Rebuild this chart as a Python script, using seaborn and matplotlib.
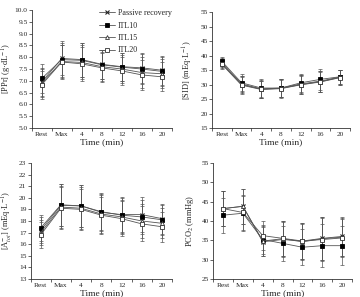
import numpy as np
import pandas as pd
import seaborn as sns
import matplotlib
matplotlib.use("Agg")
import matplotlib.pyplot as plt

# tiempos (eje x categorico)
times = ["Rest", "Max", "4", "8", "12", "16", "20"]
groups = ["Passive recovery", "ITL10", "ITL15", "ITL20"]

# [PPr] (g/dL)
ppr_passive = [6.95, 7.95, 7.90, 7.70, 7.60, 7.55, 7.45]
ppr_itl10 = [7.10, 7.90, 7.87, 7.68, 7.58, 7.50, 7.40]
ppr_itl15 = [6.90, 7.82, 7.78, 7.60, 7.50, 7.35, 7.30]
ppr_itl20 = [6.83, 7.80, 7.72, 7.55, 7.42, 7.25, 7.17]
ppr_sd = [0.60, 0.72, 0.72, 0.62, 0.60, 0.65, 0.62]

# [SID] (mEq/L)
sid_passive = [37.5, 30.2, 28.5, 28.8, 30.2, 31.2, 32.6]
sid_itl10 = [38.0, 30.6, 28.8, 28.8, 30.6, 31.8, 32.7]
sid_itl15 = [37.2, 30.0, 28.4, 28.7, 30.0, 31.0, 32.5]
sid_itl20 = [37.0, 29.8, 28.3, 28.6, 29.9, 30.9, 32.4]
sid_sd = [1.6, 2.9, 3.0, 3.1, 3.2, 3.6, 2.5]

# [Atot] (mEq/L)
atot_passive = [17.2, 19.35, 19.30, 18.75, 18.55, 18.55, 18.20]
atot_itl10 = [17.4, 19.40, 19.30, 18.80, 18.50, 18.35, 18.10]
atot_itl15 = [17.0, 19.20, 19.10, 18.60, 18.35, 18.00, 17.80]
atot_itl20 = [16.8, 19.10, 19.00, 18.50, 18.20, 17.75, 17.50]
atot_sd = [1.1, 1.8, 1.8, 1.6, 1.5, 1.5, 1.3]

# PCO2 (mmHg)
pco2_passive = [43.2, 43.8, 34.6, 35.2, 34.8, 35.5, 36.0]
pco2_itl10 = [41.5, 42.0, 35.2, 34.2, 33.2, 33.6, 33.6]
pco2_itl15 = [43.2, 43.8, 34.8, 35.4, 34.6, 35.4, 35.8]
pco2_itl20 = [43.2, 42.2, 36.2, 35.5, 34.8, 35.2, 35.6]
pco2_sd = [4.5, 4.5, 3.8, 4.5, 4.6, 5.5, 5.0]

sns.set_style("ticks")
plt.rcParams['font.family'] = ['Liberation Serif', 'DejaVu Serif']
plt.rcParams['mathtext.fontset'] = 'stix'
plt.rcParams['font.size'] = 6

markers = {"Passive recovery": dict(marker="x", mfc="#222222", mec="#222222", ms=2.6, mew=0.8),
           "ITL10": dict(marker="s", mfc="black", mec="black", ms=3.0, mew=0.6),
           "ITL15": dict(marker="^", mfc="white", mec="#333333", ms=2.8, mew=0.6),
           "ITL20": dict(marker="s", mfc="white", mec="#333333", ms=2.8, mew=0.6)}

W, H = 360, 297
panels = [
    ([ppr_passive, ppr_itl10, ppr_itl15, ppr_itl20], ppr_sd, "[PPr] (g·dL$^{-1}$)",
     np.arange(5.0, 10.01, 0.5), "%.1f", [0.088, 0.569, 0.390, 0.397], 14),
    ([sid_passive, sid_itl10, sid_itl15, sid_itl20], sid_sd, "[SID] (mEq·L$^{-1}$)",
     np.arange(15, 56, 5), "%d", [0.589, 0.569, 0.383, 0.390], 195),
    ([atot_passive, atot_itl10, atot_itl15, atot_itl20], atot_sd, "[A$_{tot}^{-}$] (mEq·L$^{-1}$)",
     np.arange(13, 24, 1), "%d", [0.085, 0.061, 0.393, 0.390], 14),
    ([pco2_passive, pco2_itl10, pco2_itl15, pco2_itl20], pco2_sd, "PCO$_2$ (mmHg)",
     np.arange(25, 56, 5), "%d", [0.592, 0.061, 0.386, 0.390], 196),
]

fig = plt.figure(figsize=(3.6, 2.97), dpi=100)
x = np.arange(len(times))

for k, (series, sd, ylab, yt, fmt, pos, lab_x) in enumerate(panels):
    ax = fig.add_axes(pos)
    rows = []
    for g, vals in zip(groups, series):
        for t, v in zip(x, vals):
            rows.append({"t": t, "val": v, "grupo": g})
    df = pd.DataFrame(rows)
    for g, vals in zip(groups, series):
        # barras de error (media +/- sd)
        ax.errorbar(x, vals, yerr=sd, fmt="none", ecolor="#555555", elinewidth=0.5,
                    capsize=1.6, capthick=0.5, zorder=1)
        sns.lineplot(data=df[df["grupo"] == g], x="t", y="val", ax=ax, color="#555555",
                     linewidth=0.6, label=g if k == 0 else None, legend=False,
                     zorder=2, **markers[g])
    ax.set_xlim(-0.5, 6.5)
    ax.set_ylim(yt[0], yt[-1])
    ax.set_yticks(yt)
    ax.set_yticklabels([fmt % v for v in yt])
    ax.set_xticks(x)
    ax.set_xticklabels(times)
    ax.set_xticks(np.arange(-0.5, 7, 1), minor=True)
    ax.tick_params(axis="x", which="major", length=0, pad=3)
    ax.tick_params(axis="x", which="minor", length=2, width=0.5, direction="out")
    ax.tick_params(axis="y", length=2, width=0.5, pad=1)
    ax.tick_params(labelsize=5.3)
    for s in ["top", "right"]:
        ax.spines[s].set_visible(False)
    for s in ["left", "bottom"]:
        ax.spines[s].set_linewidth(0.6)
        ax.spines[s].set_color("#333333")
    ax.set_xlabel("Time (min)", fontsize=6.8, labelpad=0.5)
    ax.set_ylabel(ylab, fontsize=6.0)
    # posicion de la etiqueta y (borde derecho) en pixeles de la figura
    ax.yaxis.set_label_coords((lab_x - pos[0] * W) / (pos[2] * W), 0.5)
    if k == 0:
        ax.legend(loc="upper right", bbox_to_anchor=(1.05, 1.07), frameon=False, fontsize=5.8,
                  handlelength=2.0, labelspacing=0.55, handletextpad=0.4)

fig.savefig("out.png", dpi=100)
